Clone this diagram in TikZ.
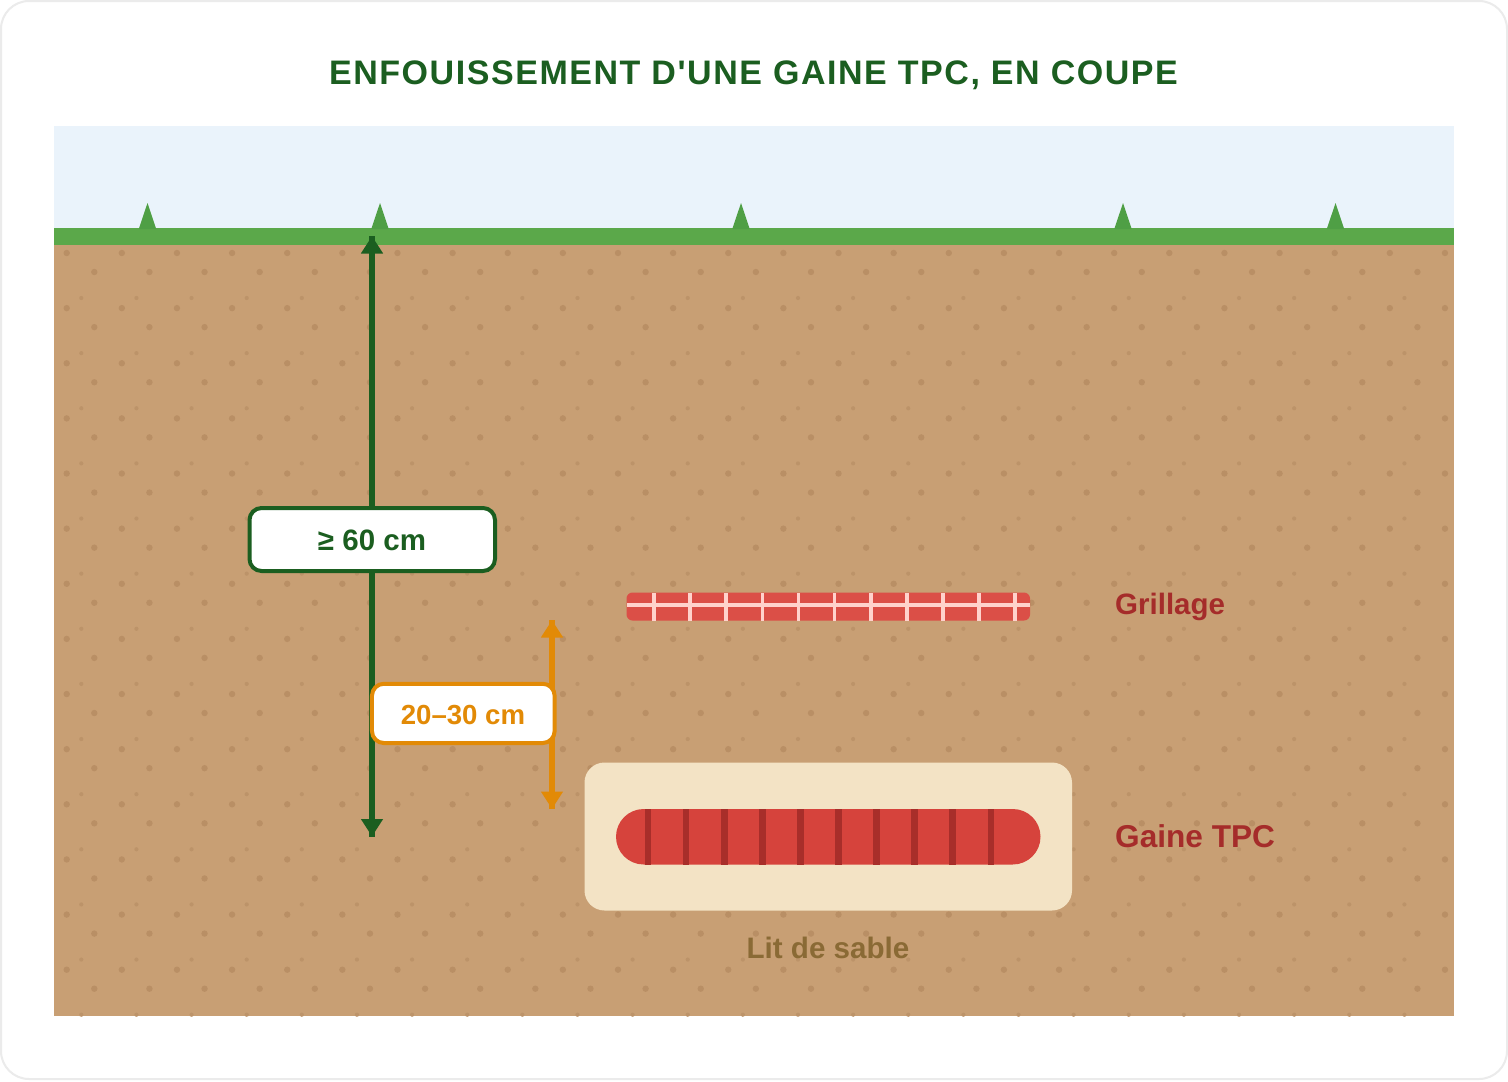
\documentclass[tikz,border=0pt]{standalone}
\usepackage{fontspec}
\setmainfont{Liberation Sans}
\newfontfamily\headingfont[LetterSpace=4.55]{Liberation Sans}
\usetikzlibrary{arrows.meta}
\newcommand{\fs}[1]{\fontsize{#1}{#1}\selectfont\bfseries}
\definecolor{framegrey}{HTML}{EBEBEB}
\definecolor{sky}{HTML}{EAF3FB}
\definecolor{grass}{HTML}{5BA84A}
\definecolor{tuft}{HTML}{4F9F45}
\definecolor{soil}{HTML}{C89F74}
\definecolor{pebble}{HTML}{B98F65}
\definecolor{pebblesmall}{HTML}{BC9369}
\definecolor{sand}{HTML}{F3E3C5}
\definecolor{pipered}{HTML}{D6433C}
\definecolor{pipeband}{HTML}{A82E2A}
\definecolor{meshred}{HTML}{DB4F47}
\definecolor{meshline}{HTML}{FFD2CC}
\definecolor{deepgreen}{HTML}{1B5E20}
\definecolor{amber}{HTML}{E28A06}
\definecolor{labelred}{HTML}{A52C2A}
\definecolor{sandtext}{HTML}{8A6A35}
\tikzset{
  titletext/.style={text=deepgreen,inner sep=0pt,anchor=base,font=\headingfont\fs{34}},
  sidelabel/.style={text=labelred,inner sep=0pt,anchor=base west},
  dimbox/.style={draw=#1,fill=white,line width=4pt,rounded corners=12pt,inner sep=0pt},
  dimtext/.style={text=#1,inner sep=0pt,anchor=base},
  dimshaft/.style={draw=#1,line width=5.2pt},
  dimtips/.style={draw=#1,fill=#1,line width=5.2pt,
    {Triangle[length=17.5pt,width=21pt]}-{Triangle[length=17.5pt,width=21pt]}},
  blade/.style={fill=tuft},
}
\begin{document}
\begin{tikzpicture}[x=1pt,y=-1pt]
\useasboundingbox (0,0) rectangle (1508,1082);
\fill[white] (0,0) rectangle (1508,1082);
\draw[framegrey,line width=2pt,rounded corners=28pt] (1,1) rectangle (1507,1079);

\node[titletext] (title) at (753.5,84) {ENFOUISSEMENT D'UNE GAINE TPC, EN COUPE};

% sky, soil and grass
\fill[sky] (54,126) rectangle (1454,228);
\fill[soil] (54,245) rectangle (1454,1016);
\begin{scope}
  \clip (54,245) rectangle (1454,1016);
  \foreach \i in {0,...,25} \foreach \j in {0,...,13} {
    \fill[pebble] ({66.7+55.13*\i},{253+55.13*\j}) circle (3.2pt);
    \fill[pebble] ({94.3+55.13*\i},{272+55.13*\j}) circle (3.2pt);
    \fill[pebblesmall] ({81.3+55.13*\i},{298+55.13*\j}) circle (2.1pt);
  }
\end{scope}
\fill[grass] (54,228) rectangle (1454,245);
\foreach \x in {147.5,380,741,1123,1335.5}
  \fill[blade] (\x,203) -- (\x+8.7,229) -- (\x-8.7,229) -- cycle;

% warning mesh
\fill[meshred,rounded corners=6pt] (626.5,592.5) rectangle (1030,620.5);
\fill[meshline] (627,603.3) rectangle (1030,606.7);
\foreach \i in {0,...,10}
  \fill[meshline] ({654+36.12*\i-1.8},592.5) rectangle ({654+36.12*\i+1.8},620.5);

% sand bed and duct
\fill[sand,rounded corners=20pt] (584.5,762.5) rectangle (1072,910.5);
\fill[pipered,rounded corners=27.7pt] (616,809) rectangle (1040.5,864.5);
\foreach \i in {0,...,9}
  \fill[pipeband] ({648+38.1*\i-3.35},809) rectangle ({648+38.1*\i+3.35},864.5);

% dimension lines
\coordinate (depthtop) at (372,236);
\coordinate (depthbottom) at (372,836.5);
\coordinate (coverbottom) at (552,809);
\coordinate (covertop) at (552,620);
\draw[dimtips=deepgreen] (depthtop) -- (depthbottom);
\draw[dimshaft=deepgreen] (depthtop) -- (depthbottom);
\draw[dimtips=amber] (covertop) -- (coverbottom);
\draw[dimshaft=amber] (covertop) -- (coverbottom);

\node[dimbox=deepgreen,minimum width=245.5pt,minimum height=63pt] (deepbox) at (372.25,539.5) {};
\node[dimtext=deepgreen,font=\fs{29.5}] (deeplabel) at (372,550) {≥ 60 cm};
\node[dimbox=amber,minimum width=182.7pt,minimum height=59.3pt] (coverbox) at (463.3,713.4) {};
\node[dimtext=amber,font=\fs{27.6}] (coverlabel) at (463,724.5) {20–30 cm};

% captions
\node[sidelabel,font=\fs{29.5}] (meshlabel) at (1115,614) {Grillage};
\node[sidelabel,font=\fs{31.6}] (ductlabel) at (1115,847) {Gaine TPC};
\node[text=sandtext,inner sep=0pt,anchor=base,font=\fs{29.6}] (sandlabel) at (828,958) {Lit de sable};
\end{tikzpicture}
\end{document}
